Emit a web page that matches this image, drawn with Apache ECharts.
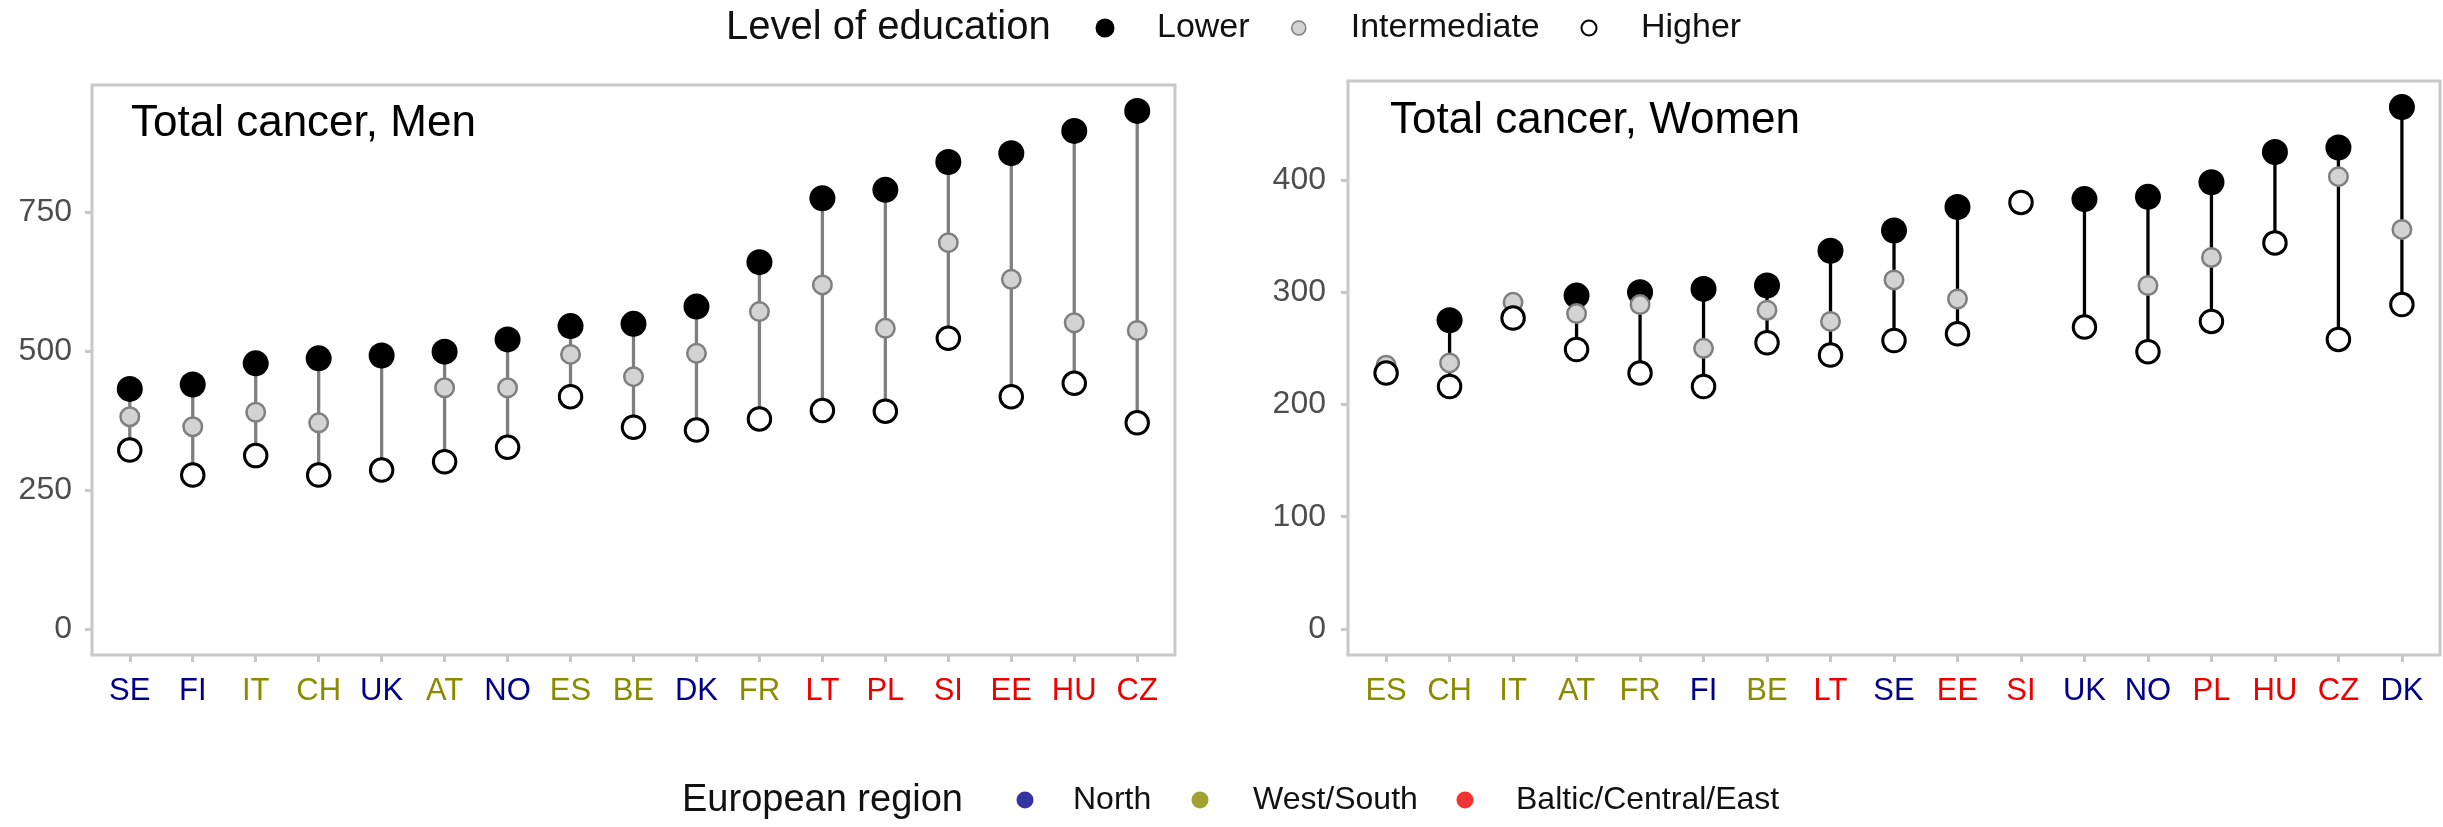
<!DOCTYPE html>
<html>
<head>
<meta charset="utf-8">
<title>Total cancer mortality by level of education</title>
<script src="https://cdn.jsdelivr.net/npm/echarts@6/dist/echarts.min.js"></script>
<style>
  html, body { margin: 0; padding: 0; background: #ffffff; }
  #chart { width: 2443px; height: 827px; }
</style>
</head>
<body>
<div id="chart"></div>
<script>
// ---- Data: rates per country and level of education ----
const menCountries = ['SE','FI','IT','CH','UK','AT','NO','ES','BE','DK','FR','LT','PL','SI','EE','HU','CZ'];
const menLower        = [432, 440, 478, 487, 492, 499, 521, 545, 549, 580, 660, 775, 790, 840, 856, 896, 932];
const menIntermediate = [382, 364, 390, 371, null, 434, 434, 494, 454, 496, 571, 619, 541, 695, 629, 551, 537];
const menHigher       = [322, 277, 312, 277, 286, 301, 327, 418, 363, 358, 378, 393, 392, 523, 418, 442, 371];

const womenCountries = ['ES','CH','IT','AT','FR','FI','BE','LT','SE','EE','SI','UK','NO','PL','HU','CZ','DK'];
const womenLower        = [null, 275, null, 297, 300, 303, 306, 337, 355, 376, null, 383, 385, 398, 425, 429, 465];
const womenIntermediate = [235, 237, 291, 281, 289, 250, 284, 274, 311, 294, null, null, 306, 331, null, 403, 356];
const womenHigher       = [228, 216, 277, 249, 228, 216, 255, 244, 257, 263, 380, 269, 247, 274, 344, 258, 289];

const menTicks = [0, 250, 500, 750];
const womenTicks = [0, 100, 200, 300, 400];

const regionNames = ['North', 'West/South', 'Baltic/Central/East'];
const countryRegion = {
  SE: 'North', FI: 'North', UK: 'North', NO: 'North', DK: 'North',
  IT: 'West/South', CH: 'West/South', AT: 'West/South', ES: 'West/South', BE: 'West/South', FR: 'West/South',
  LT: 'Baltic/Central/East', PL: 'Baltic/Central/East', SI: 'Baltic/Central/East',
  EE: 'Baltic/Central/East', HU: 'Baltic/Central/East', CZ: 'Baltic/Central/East'
};

// ---- Styling ----
const FONT = "'Liberation Sans', Arial, Helvetica, sans-serif";
const regionColor = { 'North': '#00008B', 'West/South': '#8B8B00', 'Baltic/Central/East': '#EE0000' };
const regionKey = { 'North': 'n', 'West/South': 'w', 'Baltic/Central/East': 'b' };
const BORDER = '#c8c8c8';
const levelStyle = {
  Lower:        { color: '#000000', borderColor: '#000000', borderWidth: 0 },
  Intermediate: { color: '#d3d3d3', borderColor: '#7f7f7f', borderWidth: 2.5 },
  Higher:       { color: '#ffffff', borderColor: '#000000', borderWidth: 3 }
};
const levelSize = { Lower: 26, Intermediate: 18.5, Higher: 22.5 };

const panels = [
  { title: 'Total cancer, Men', countries: menCountries, lower: menLower, mid: menIntermediate, high: menHigher,
    ticks: menTicks, lineColor: '#7f7f7f',
    grid: { left: 92, top: 85, width: 1083, height: 570 }, titlePos: { left: 131, top: 102 }, yMargin: 20 },
  { title: 'Total cancer, Women', countries: womenCountries, lower: womenLower, mid: womenIntermediate, high: womenHigher,
    ticks: womenTicks, lineColor: '#000000',
    grid: { left: 1348, top: 81, width: 1092, height: 574 }, titlePos: { left: 1390, top: 99 }, yMargin: 22 }
];

const rich = {};
regionNames.forEach(r => {
  rich[regionKey[r]] = { color: regionColor[r], fontSize: 31, fontFamily: FONT, lineHeight: 31 };
});

function points(values) {
  return values.map((v, i) => (v == null ? null : [i, v])).filter(Boolean);
}

function ranges(p) {
  return p.countries.map((c, i) => {
    const vals = [p.lower[i], p.mid[i], p.high[i]].filter(v => v != null);
    return [i, Math.min.apply(null, vals), Math.max.apply(null, vals)];
  });
}

function rangeRenderer(color) {
  return function (params, api) {
    const x = api.value(0);
    const a = api.coord([x, api.value(1)]);
    const b = api.coord([x, api.value(2)]);
    return {
      type: 'line',
      shape: { x1: a[0], y1: a[1], x2: b[0], y2: b[1] },
      style: { stroke: color, lineWidth: 3.3 },
      silent: true
    };
  };
}

const grids = [], xAxes = [], yAxes = [], series = [], titles = [];

panels.forEach((p, k) => {
  grids.push(Object.assign({ show: true, borderColor: BORDER, borderWidth: 3, backgroundColor: '#ffffff' }, p.grid));

  const n = p.countries.length;
  const idx = p.countries.map((c, i) => i);
  xAxes.push({
    gridIndex: k, type: 'value', position: 'bottom', min: -0.6, max: n - 1 + 0.6,
    axisLine: { show: false, onZero: false },
    splitLine: { show: false },
    axisTick: { show: true, customValues: idx, length: 7, lineStyle: { color: BORDER, width: 3 } },
    axisLabel: {
      customValues: idx, margin: 21,
      formatter: v => {
        const name = p.countries[Math.round(v)];
        return '{' + regionKey[countryRegion[name]] + '|' + name + '}';
      },
      rich: rich
    }
  });

  const all = [].concat(p.lower, p.mid, p.high).filter(v => v != null);
  const top = Math.max.apply(null, all);
  yAxes.push({
    gridIndex: k, type: 'value', position: 'left', min: -0.05 * top, max: 1.05 * top,
    axisLine: { show: false, onZero: false },
    splitLine: { show: false },
    axisTick: { show: true, customValues: p.ticks, length: 7, lineStyle: { color: BORDER, width: 3 } },
    axisLabel: { customValues: p.ticks, margin: p.yMargin, color: '#4d4d4d', fontSize: 32, fontFamily: FONT }
  });

  series.push({
    type: 'custom', name: 'range', xAxisIndex: k, yAxisIndex: k,
    data: ranges(p), encode: { x: 0, y: [1, 2] },
    renderItem: rangeRenderer(p.lineColor), z: 1
  });
  [['Lower', p.lower], ['Intermediate', p.mid], ['Higher', p.high]].forEach(([name, vals]) => {
    series.push({
      type: 'scatter', name: name, xAxisIndex: k, yAxisIndex: k,
      data: points(vals), symbol: 'circle', symbolSize: levelSize[name],
      itemStyle: Object.assign({ opacity: 1 }, levelStyle[name]),
      emphasis: { disabled: true }, z: 2
    });
  });

  titles.push({
    text: p.title, left: p.titlePos.left, top: p.titlePos.top, padding: 0,
    textStyle: { fontSize: 44, fontWeight: 'normal', color: '#000000', fontFamily: FONT }
  });
});

// Region colours appear only in the lower legend
regionNames.forEach(r => {
  series.push({ type: 'scatter', name: r, xAxisIndex: 0, yAxisIndex: 0, data: [], symbol: 'circle', itemStyle: { color: regionColor[r] } });
});

titles.push({
  text: 'Level of education', left: 726, top: 8, padding: 0,
  textStyle: { fontSize: 40, fontWeight: 'normal', color: '#111111', fontFamily: FONT }
});
titles.push({
  text: 'European region', left: 682, top: 782, padding: 0,
  textStyle: { fontSize: 38, fontWeight: 'normal', color: '#111111', fontFamily: FONT }
});

// One legend per entry so each symbol sits at its own spot; the legend box
// starts at the symbol's left edge, the text follows after itemWidth.
function legendEntry(name, cx, cy, size, textGap, fontSize, style) {
  const h = Math.max(size, fontSize);
  const itemW = 2 * (textGap - 5);
  return {
    left: cx - size / 2, top: cy - h / 2, padding: 0,
    itemWidth: itemW, itemHeight: size, icon: 'circle', selectedMode: false,
    data: [{ name: name, itemStyle: style }],
    textStyle: { fontSize: fontSize, color: '#111111', fontFamily: FONT }
  };
}

const legends = [
  legendEntry('Lower', 1105, 28, 19, 52, 34, { color: '#000000', borderWidth: 0 }),
  legendEntry('Intermediate', 1298, 28, 14, 52, 34, { color: '#d3d3d3', borderColor: '#7f7f7f', borderWidth: 1.5 }),
  legendEntry('Higher', 1588, 28, 15, 52, 34, { color: '#ffffff', borderColor: '#000000', borderWidth: 2 }),
  legendEntry('North', 1025, 800, 17, 48, 32, { color: regionColor['North'], borderWidth: 0 }),
  legendEntry('West/South', 1200, 800, 17, 53, 32, { color: regionColor['West/South'], borderWidth: 0 }),
  legendEntry('Baltic/Central/East', 1465, 800, 17, 51, 32, { color: regionColor['Baltic/Central/East'], borderWidth: 0 })
];

const chart = echarts.init(document.getElementById('chart'), null, { renderer: 'canvas' });
chart.setOption({
  animation: false,
  backgroundColor: '#ffffff',
  textStyle: { fontFamily: FONT },
  title: titles,
  legend: legends,
  grid: grids,
  xAxis: xAxes,
  yAxis: yAxes,
  series: series
});
</script>
</body>
</html>
